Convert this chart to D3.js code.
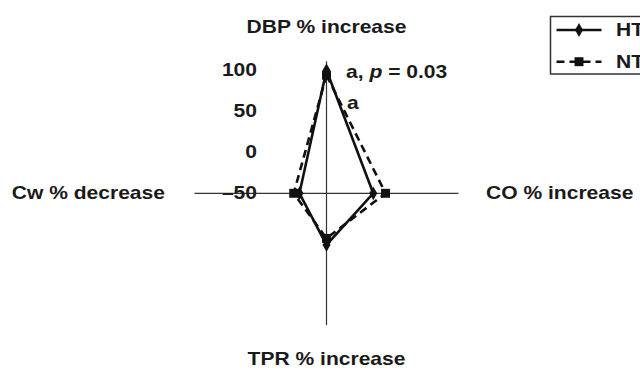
<!DOCTYPE html>
<html>
<head>
<meta charset="utf-8">
<script src="https://cdn.jsdelivr.net/npm/d3@7"></script>
<style>
  body { margin: 0; background: #fff; }
  svg { display: block; }
  text { font-family: "Liberation Sans", Arial, sans-serif; font-weight: bold; fill: #1a1a1a; }
</style>
</head>
<body>
<svg id="chart" width="640" height="370"></svg>
<script>
// axes clockwise from top
const axisNames = ["DBP % increase", "CO % increase", "TPR % increase", "Cw % decrease"];
const tickValues = [100, 50, 0, -50];
const htValues = [100, 7, 13, -17];
const ntValues = [94, 22, 5, -10];
const seriesNames = ["HT", "NT"];

const svg = d3.select("#chart");
const cx = 326.5, cy = 193.3;
const sx = 1.17; // glyphs in the figure are stretched wide

const r = d3.scaleLinear().domain([-50, 111]).range([0, 132]);
const angle = i => -Math.PI / 2 + i * Math.PI / 2;
const pt = (v, i) => [cx + r(v) * Math.cos(angle(i)), cy + r(v) * Math.sin(angle(i))];

function label(x, y, txt, anchor, size) {
  return svg.append("text")
    .attr("transform", `translate(${x},${y}) scale(${sx},1)`)
    .attr("text-anchor", anchor)
    .attr("dy", "0.36em")
    .style("font-size", (size || 18) + "px")
    .text(txt);
}

// axis lines
axisNames.forEach((name, i) => {
  const [x2, y2] = pt(111, i);
  svg.append("line")
    .attr("x1", cx).attr("y1", cy)
    .attr("x2", x2).attr("y2", y2)
    .attr("stroke", "#333").attr("stroke-width", 1.2);
});

// axis titles
label(cx, 26.5, axisNames[0], "middle");
label(486, 193, axisNames[1], "start");
label(cx, 359, axisNames[2], "middle");
label(165, 193, axisNames[3], "end");

// tick labels on the DBP axis
tickValues.forEach(v => {
  label(257, pt(v, 0)[1] - 1, v < 0 ? "\u2013" + Math.abs(v) : String(v), "end");
});

const lineGen = d3.line().curve(d3.curveLinearClosed);

function drawSeries(values, dash, marker) {
  const pts = values.map((v, i) => pt(v, i));
  svg.append("path")
    .attr("d", lineGen(pts))
    .attr("fill", "none")
    .attr("stroke", "#111")
    .attr("stroke-width", 2.6)
    .attr("stroke-linejoin", "miter")
    .attr("stroke-dasharray", dash);
  svg.selectAll(null).data(pts).enter().append("path")
    .attr("transform", d => `translate(${d[0]},${d[1]})`)
    .attr("d", marker)
    .attr("fill", "#111");
}

const diamond = d3.symbol().type(d3.symbolDiamond).size(55)();
const square = d3.symbol().type(d3.symbolSquare).size(80)();

drawSeries(ntValues, "8,5", square);
drawSeries(htValues, null, diamond);

// significance notes
const note = svg.append("text")
  .attr("transform", `translate(346,${pt(100, 0)[1] + 1}) scale(${sx},1)`)
  .attr("dy", "0.36em")
  .style("font-size", "18px");
note.append("tspan").text("a, ");
note.append("tspan").style("font-style", "italic").text("p");
note.append("tspan").text(" = 0.03");
label(347, 103, "a", "start");

// legend
const lg = svg.append("g");
lg.append("rect")
  .attr("x", 550.5).attr("y", 16.5)
  .attr("width", 120).attr("height", 57.5)
  .attr("fill", "#fff").attr("stroke", "#333").attr("stroke-width", 1.5);
[[30, null, diamond], [61.7, "8,5", square]].forEach((row, i) => {
  lg.append("line")
    .attr("x1", 556.5).attr("x2", 601.5)
    .attr("y1", row[0]).attr("y2", row[0])
    .attr("stroke", "#111").attr("stroke-width", 2.4)
    .attr("stroke-dasharray", row[1]);
  lg.append("path")
    .attr("transform", `translate(579,${row[0]})`)
    .attr("d", row[2]).attr("fill", "#111");
  label(616, row[0], seriesNames[i], "start");
});
</script>
</body>
</html>
